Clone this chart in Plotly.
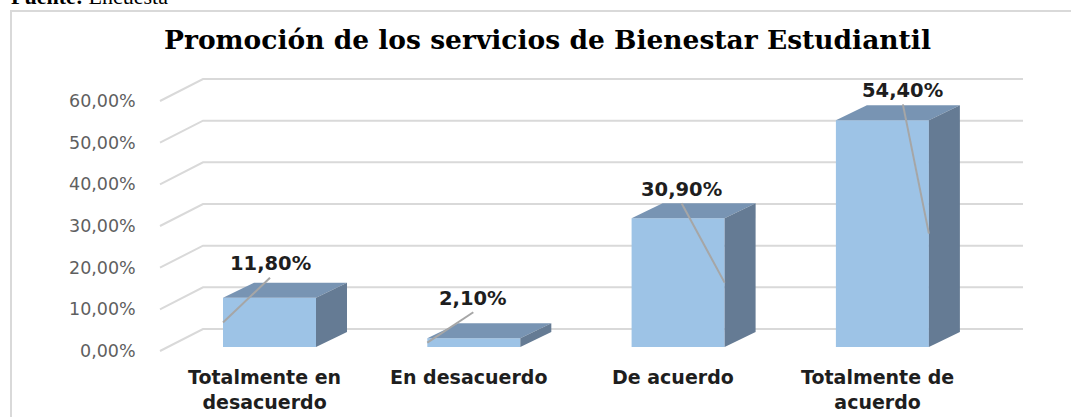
import plotly.graph_objects as go

# ---------------- data ----------------
categories = ["Totalmente en<br>desacuerdo", "En desacuerdo", "De acuerdo", "Totalmente de<br>acuerdo"]
values = [11.8, 2.1, 30.9, 54.4]
value_labels = ["11,80%", "2,10%", "30,90%", "54,40%"]
tick_values = [0, 10, 20, 30, 40, 50, 60]
tick_labels = ["0,00%", "10,00%", "20,00%", "30,00%", "40,00%", "50,00%", "60,00%"]
chart_title = "<b>Promoción de los servicios de Bienestar Estudiantil</b>"
source_text = "<b>Fuente:</b> Encuesta"

# ---------------- layout geometry (pixels) ----------------
W, H = 1071, 417
X0_PX = 269.5          # pixel x of first category centre
CAT_PX = 204.3         # pixels per category
Y0_PX = 347.0          # pixel y of 0 %
PCT_PX = 250.0 / 60.0  # pixels per 1 %

BAR_W = 93 / CAT_PX
DEPTH_X = 31 / CAT_PX
DEPTH_Y = 15 / PCT_PX

GRID_FRONT_X = (160 - X0_PX) / CAT_PX
GRID_BACK_X = (203 - X0_PX) / CAT_PX
GRID_RIGHT_X = (1023 - X0_PX) / CAT_PX
GRID_FRONT_DY = -4 / PCT_PX
GRID_BACK_DY = 18 / PCT_PX
TICK_X = (138 - X0_PX) / CAT_PX

label_offsets_px = [(0.5, -34), (-0.5, -40), (3.5, -29), (20.5, -30)]
leader_side = [-1, -1, 1, 1]

FRONT = "#9DC3E6"
TOP = "#7894B3"
SIDE = "#657B94"
GRID = "#D9D9D9"
LEADER = "#A6A6A6"

x_range = [(0 - X0_PX) / CAT_PX, (W - X0_PX) / CAT_PX]
y_range = [(Y0_PX - H) / PCT_PX, Y0_PX / PCT_PX]

xs = list(range(len(values)))

fig = go.Figure()
fig.add_trace(go.Bar(x=xs, y=values, width=BAR_W, marker=dict(color=FRONT, line=dict(width=0)),
                     hoverinfo="skip", showlegend=False))

shapes = []
annotations = []

# 3D gridlines (floor-to-back-wall)
for t, lab in zip(tick_values, tick_labels):
    yf = t + GRID_FRONT_DY
    yb = t + GRID_BACK_DY
    shapes.append(dict(type="path", xref="x", yref="y", layer="below",
                       path=f"M {GRID_FRONT_X},{yf} L {GRID_BACK_X},{yb} L {GRID_RIGHT_X},{yb}",
                       line=dict(color=GRID, width=2)))
    annotations.append(dict(x=TICK_X, y=yf, xref="x", yref="y", text=lab, showarrow=False,
                            xanchor="right", yanchor="middle",
                            font=dict(family="DejaVu Sans", size=17.5, color="#5F5F5F")))

# bar top / side faces, labels, leader lines
for i, v in enumerate(values):
    x0 = i - BAR_W / 2
    x1 = i + BAR_W / 2
    top = f"M {x0},{v} L {x1},{v} L {x1 + DEPTH_X},{v + DEPTH_Y} L {x0 + DEPTH_X},{v + DEPTH_Y} Z"
    side = f"M {x1},0 L {x1},{v} L {x1 + DEPTH_X},{v + DEPTH_Y} L {x1 + DEPTH_X},{DEPTH_Y} Z"
    shapes.append(dict(type="path", xref="x", yref="y", path=top, fillcolor=TOP, line=dict(width=0)))
    shapes.append(dict(type="path", xref="x", yref="y", path=side, fillcolor=SIDE, line=dict(width=0)))

    ox, oy = label_offsets_px[i]
    lx = i + ox / CAT_PX
    ly = v - oy / PCT_PX
    annotations.append(dict(x=lx, y=ly, xref="x", yref="y", text=f"<b>{value_labels[i]}</b>",
                            showarrow=False, xanchor="center", yanchor="middle",
                            font=dict(family="DejaVu Sans", size=19.5, color="#1E1E1E")))
    ex = i + leader_side[i] * BAR_W / 2
    ey = v / 2
    shapes.append(dict(type="line", xref="x", yref="y", x0=lx, y0=ly - 14 / PCT_PX, x1=ex, y1=ey,
                       line=dict(color=LEADER, width=2)))

    annotations.append(dict(x=i - 5 / CAT_PX, y=(Y0_PX - 364) / PCT_PX, xref="x", yref="y",
                            text=f"<b>{categories[i]}</b>", showarrow=False,
                            xanchor="center", yanchor="top",
                            font=dict(family="DejaVu Sans", size=19, color="#1E1E1E")))

# outer chart border
shapes.append(dict(type="rect", xref="paper", yref="paper", x0=11 / W, x1=1.02, y0=-0.02, y1=1 - 11 / H,
                   line=dict(color=GRID, width=2), layer="below"))

annotations.append(dict(x=547 / W, y=1 - 40 / H, xref="paper", yref="paper", text=chart_title,
                        showarrow=False, xanchor="center", yanchor="middle",
                        font=dict(family="DejaVu Serif", size=26.5, color="#000000")))
annotations.append(dict(x=9 / W, y=1 - 11 / H, xref="paper", yref="paper", text=source_text,
                        showarrow=False, xanchor="left", yanchor="bottom",
                        font=dict(family="Liberation Serif", size=22, color="#000000")))

fig.update_layout(
    width=W, height=H,
    margin=dict(l=0, r=0, t=0, b=0),
    paper_bgcolor="white", plot_bgcolor="white",
    xaxis=dict(range=x_range, visible=False, fixedrange=True),
    yaxis=dict(range=y_range, visible=False, fixedrange=True),
    shapes=shapes, annotations=annotations,
    showlegend=False,
)

fig.write_html("out.html", config={"displayModeBar": False},
               post_script="document.body.style.margin='0';document.body.style.overflow='hidden';")
